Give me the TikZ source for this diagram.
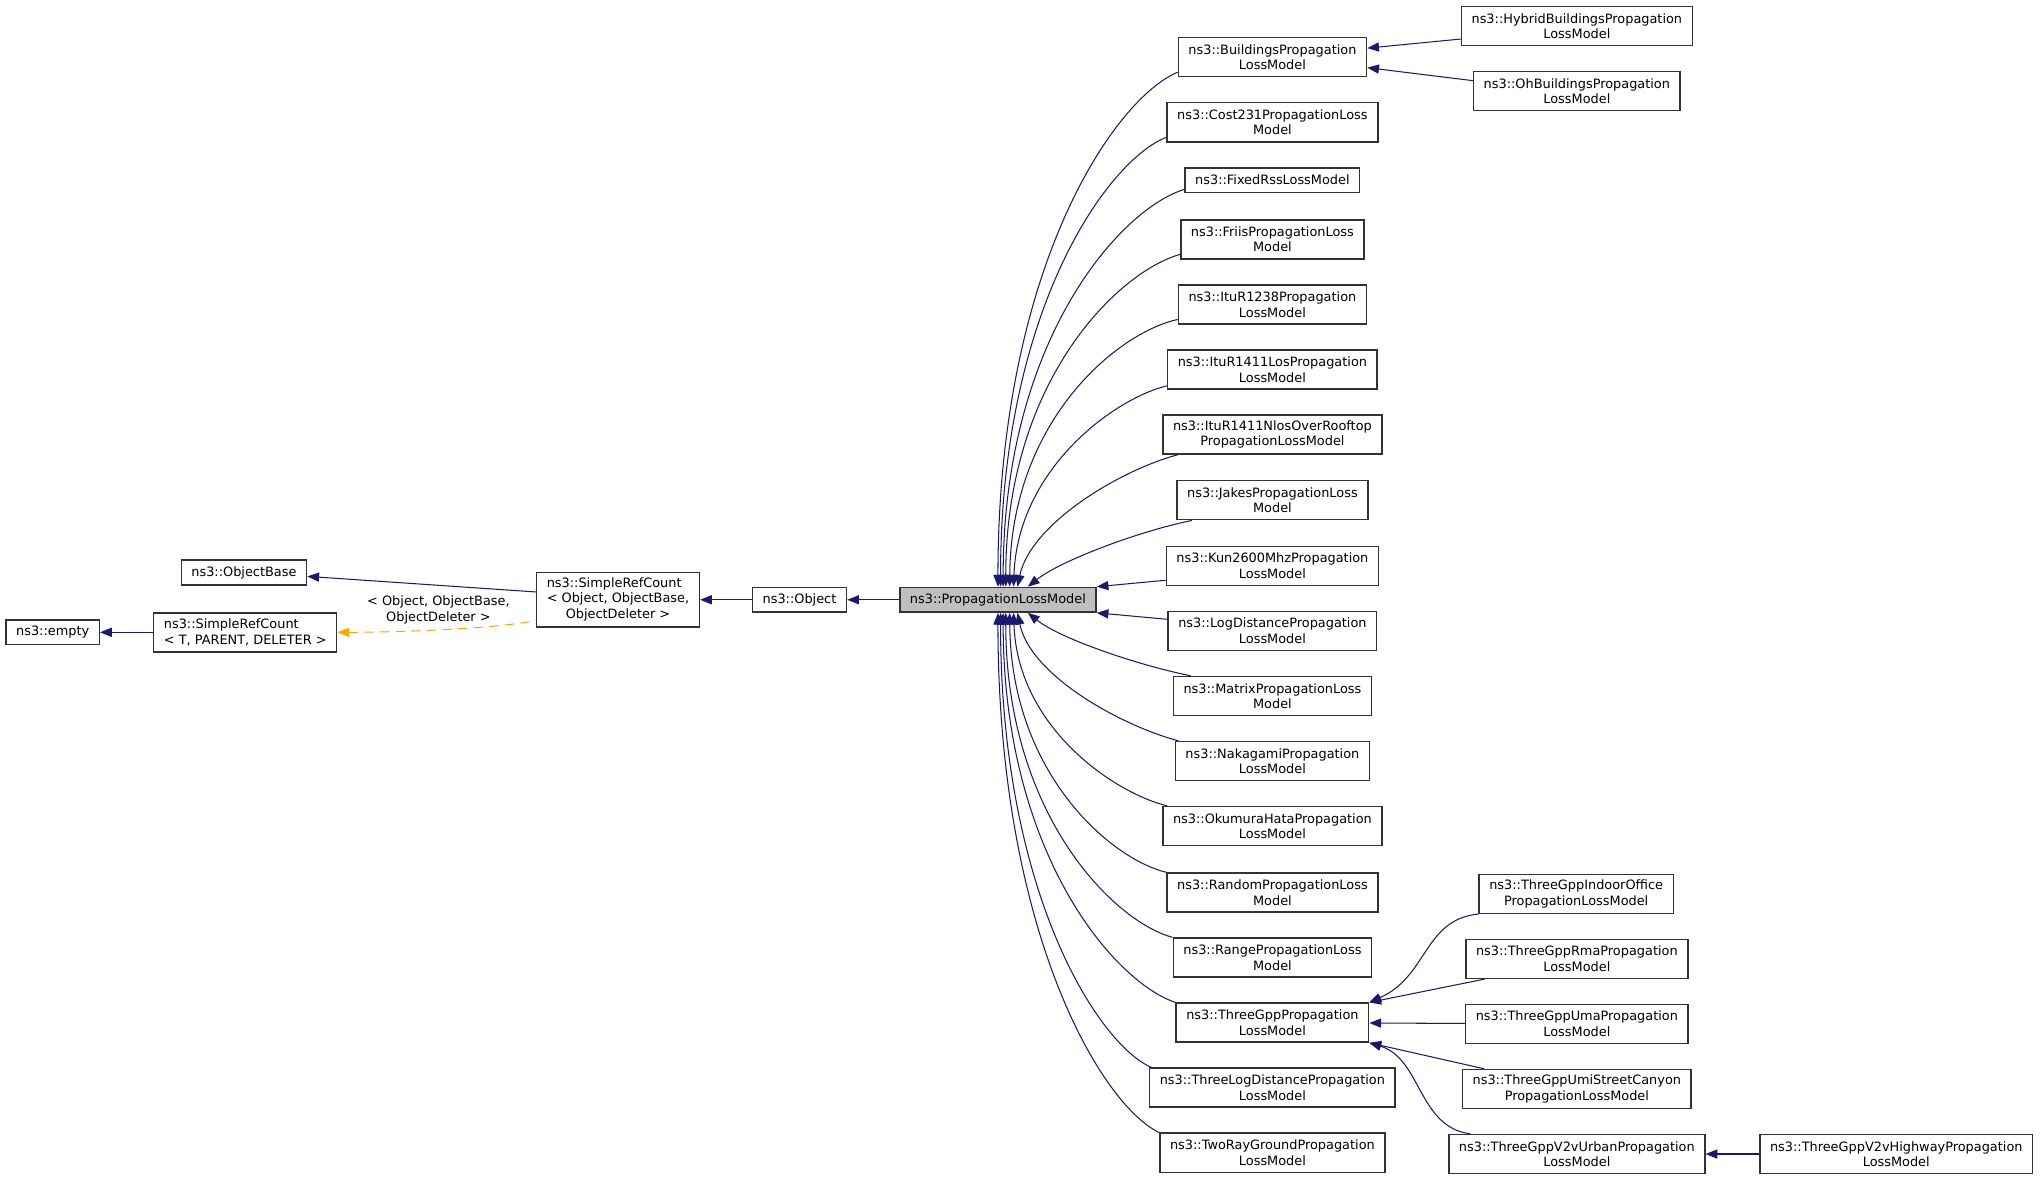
\documentclass[tikz,border=0pt]{standalone}
\usepackage{fontspec}
\setmainfont{DejaVu Sans}
\usepackage{tikz}
\usetikzlibrary{arrows.meta}
\definecolor{edgeblue}{HTML}{191970}
\definecolor{tmplorange}{HTML}{FFA500}
\definecolor{curgray}{HTML}{BFBFBF}

\begin{document}
\begin{tikzpicture}[x=1pt,y=-1pt,
    classbox/.style={draw=black!80,line width=1.1pt,fill=white,font=\fontsize{9.9}{12}\selectfont,align=center,inner xsep=7.8pt,inner ysep=2pt,minimum height=19pt},
    twoline/.style={classbox,minimum height=30pt},
    threeline/.style={classbox,minimum height=42pt},
    inh/.style={draw=edgeblue,line width=0.8pt,>={Triangle[length=9pt,width=7pt]},<-},
    tmpl/.style={draw=tmplorange,line width=0.8pt,dash pattern=on 7pt off 5pt,>={Triangle[length=9pt,width=7pt]},<-}]
        \useasboundingbox (0,0) rectangle (1568,907);

        % base classes
        \node[classbox] (empty) at (40.5,486) {ns3::empty};
        \node[twoline,align=left] (srcT) at (188.5,486) {ns3::SimpleRefCount\\< T, PARENT, DELETER >};
        \node[classbox] (objbase) at (187.5,440) {ns3::ObjectBase};
        \node[threeline] (srcobj) at (475,461) {\begin{tabular}{@{}l@{}}ns3::SimpleRefCount\\< Object, ObjectBase,\\\multicolumn{1}{@{}c@{}}{ObjectDeleter >}\end{tabular}};
        \node[classbox] (object) at (614.5,461) {ns3::Object};
        \node[classbox,fill=curgray] (plm) at (767,461) {ns3::PropagationLossModel};
        \node[font=\fontsize{9.9}{12}\selectfont,align=center] (tmpllabel) at (337,469) {< Object, ObjectBase,\\ObjectDeleter >};

        % derived classes
        \node[twoline] (bldg) at (978,44) {ns3::BuildingsPropagation\\LossModel};
        \node[twoline] (cost231) at (978,94) {ns3::Cost231PropagationLoss\\Model};
        \node[classbox] (fixedrss) at (978,138.5) {ns3::FixedRssLossModel};
        \node[twoline] (friis) at (978,184) {ns3::FriisPropagationLoss\\Model};
        \node[twoline] (itur1238) at (978,234) {ns3::ItuR1238Propagation\\LossModel};
        \node[twoline] (itur1411los) at (978,284) {ns3::ItuR1411LosPropagation\\LossModel};
        \node[twoline] (itur1411nlos) at (978,334) {ns3::ItuR1411NlosOverRooftop\\PropagationLossModel};
        \node[twoline] (jakes) at (978,384.5) {ns3::JakesPropagationLoss\\Model};
        \node[twoline] (kun) at (978,435) {ns3::Kun2600MhzPropagation\\LossModel};
        \node[twoline] (logdist) at (978,485) {ns3::LogDistancePropagation\\LossModel};
        \node[twoline] (matrix) at (978,535) {ns3::MatrixPropagationLoss\\Model};
        \node[twoline] (nakagami) at (978,585) {ns3::NakagamiPropagation\\LossModel};
        \node[twoline] (okumura) at (978,635) {ns3::OkumuraHataPropagation\\LossModel};
        \node[twoline] (random) at (978,686) {ns3::RandomPropagationLoss\\Model};
        \node[twoline] (range) at (978,736) {ns3::RangePropagationLoss\\Model};
        \node[twoline] (tgpp) at (978,786) {ns3::ThreeGppPropagation\\LossModel};
        \node[twoline] (threelog) at (978,836) {ns3::ThreeLogDistancePropagation\\LossModel};
        \node[twoline] (tworay) at (978,886) {ns3::TwoRayGroundPropagation\\LossModel};

        \node[twoline] (hybrid) at (1212,20) {ns3::HybridBuildingsPropagation\\LossModel};
        \node[twoline] (ohbldg) at (1212,70) {ns3::OhBuildingsPropagation\\LossModel};
        \node[twoline] (tgppindoor) at (1211.5,687) {ns3::ThreeGppIndoorOffice\\PropagationLossModel};
        \node[twoline] (tgpprma) at (1212,737) {ns3::ThreeGppRmaPropagation\\LossModel};
        \node[twoline] (tgppuma) at (1212,787) {ns3::ThreeGppUmaPropagation\\LossModel};
        \node[twoline] (tgppumi) at (1212,837) {ns3::ThreeGppUmiStreetCanyon\\PropagationLossModel};
        \node[twoline] (tgppv2vurban) at (1212,887) {ns3::ThreeGppV2vUrbanPropagation\\LossModel};
        \node[twoline] (tgppv2vhigh) at (1457.5,887) {ns3::ThreeGppV2vHighwayPropagation\\LossModel};

        % left part
        \draw[inh] (empty) -- (srcT);
        \draw[inh] ([yshift=-3pt]objbase.east) -- ([yshift=6pt]srcobj.west);
        \draw[tmpl] (srcT.east) .. controls +(50,0) and +(-30,6) .. ([yshift=-16pt]srcobj.west);
        \draw[inh] (srcobj) -- (object);
        \draw[inh] (object) -- (plm);

        % fan above
        \draw[inh] ([xshift=76pt]plm.north west) .. controls +(0,-246) and +(-48,20) .. ([yshift=4pt]bldg.south west);
        \draw[inh] ([xshift=78pt]plm.north west) .. controls +(0,-215) and +(-44,17) .. ([yshift=4pt]cost231.south west);
        \draw[inh] ([xshift=80pt]plm.north west) .. controls +(0,-190) and +(-49,15) .. ([yshift=3pt]fixedrss.south west);
        \draw[inh] ([xshift=82pt]plm.north west) .. controls +(0,-159) and +(-47,13) .. ([yshift=4pt]friis.south west);
        \draw[inh] ([xshift=85pt]plm.north west) .. controls +(1,-128) and +(-46,10) .. ([yshift=4pt]itur1238.south west);
        \draw[inh] ([xshift=88pt]plm.north west) .. controls +(3,-90) and +(-41,10) .. ([yshift=3pt]itur1411los.south west);
        \draw[inh] ([xshift=91pt]plm.north west) .. controls +(10,-48) and +(-45,12) .. ([xshift=12pt]itur1411nlos.south west);
        \draw[inh] ([xshift=99pt]plm.north west) .. controls +(25,-20) and +(-40,8) .. ([xshift=12pt]jakes.south west);
        \draw[inh] (plm.north east) -- ([yshift=-11pt]kun.west);
        % fan below
        \draw[inh] (plm.south east) -- ([yshift=9pt]logdist.west);
        \draw[inh] ([xshift=99pt]plm.south west) .. controls +(25,20) and +(-40,-8) .. ([xshift=14pt]matrix.north west);
        \draw[inh] ([xshift=91pt]plm.south west) .. controls +(10,48) and +(-45,-12) .. ([xshift=3pt]nakagami.north west);
        \draw[inh] ([xshift=88pt]plm.south west) .. controls +(3,88) and +(-41,-10) .. ([xshift=4pt]okumura.north west);
        \draw[inh] ([xshift=85pt]plm.south west) .. controls +(1,124) and +(-42,-10) .. (random.north west);
        \draw[inh] ([xshift=82pt]plm.south west) .. controls +(0,155) and +(-45,-12) .. (range.north west);
        \draw[inh] ([xshift=80pt]plm.south west) .. controls +(0,186) and +(-46,-15) .. (tgpp.north west);
        \draw[inh] ([xshift=78pt]plm.south west) .. controls +(0,217) and +(-40,-17) .. ([xshift=2pt]threelog.north west);
        \draw[inh] ([xshift=76pt]plm.south west) .. controls +(0,248) and +(-43,-20) .. (tworay.north west);

        % third level
        \draw[inh] ([yshift=7pt]bldg.east) -- ([yshift=-10pt]hybrid.west);
        \draw[inh] ([yshift=-8pt]bldg.east) -- ([yshift=8pt]ohbldg.west);
        \draw[inh] (tgpp.north east) .. controls +(45,-20) and +(-42,4) .. (tgppindoor.south west);
        \draw[inh] (tgpp.north east) -- ([xshift=15pt]tgpprma.south west);
        \draw[inh] (tgpp) -- (tgppuma);
        \draw[inh] (tgpp.south east) -- ([xshift=17pt]tgppumi.north west);
        \draw[inh] (tgpp.south east) .. controls +(40,12) and +(-40,-5) .. ([xshift=17pt]tgppv2vurban.north west);
        \draw[inh] (tgppv2vurban) -- (tgppv2vhigh);
    \end{tikzpicture}
\end{document}
